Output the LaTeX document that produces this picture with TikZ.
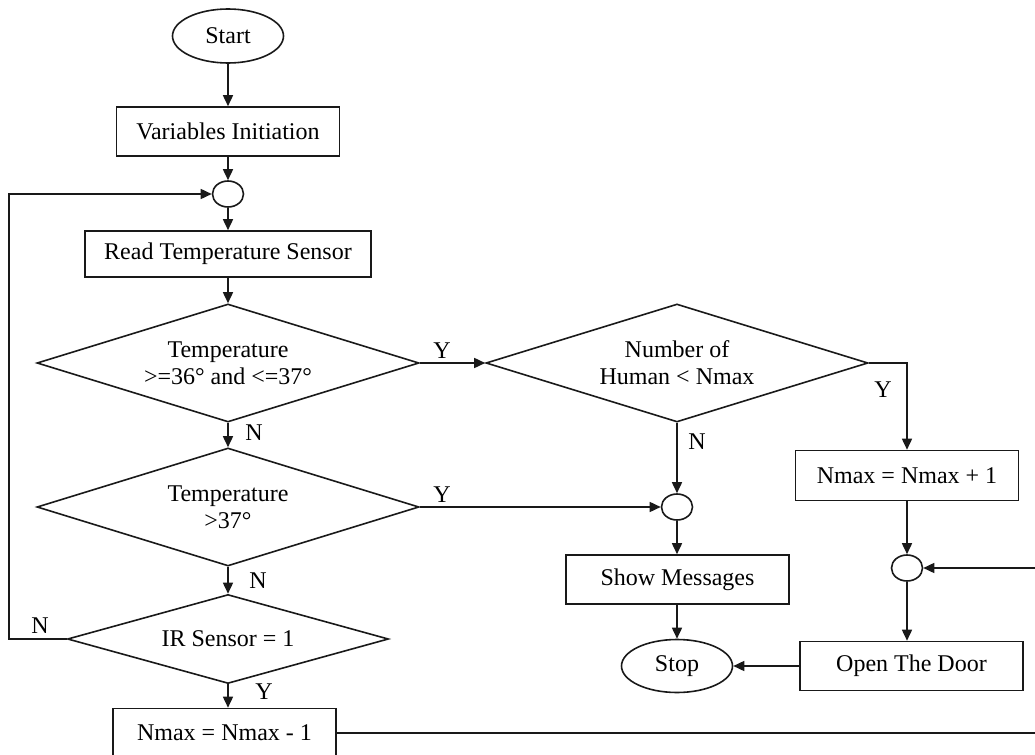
\documentclass[tikz,border=0pt]{standalone}
\usepackage{fontspec}
\setmainfont{Liberation Serif}
\usetikzlibrary{shapes.geometric,arrows.meta}
\tikzset{
  base/.style={draw=black!90, line width=0.8pt, inner sep=0pt, font=\fontsize{12}{13.5}\selectfont, align=center},
  procbox/.style={base, rectangle, minimum width=111.5pt, minimum height=24.5pt},
  term/.style={base, ellipse, minimum width=55.5pt, minimum height=27pt},
  junc/.style={base, ellipse, minimum width=15.5pt, minimum height=13pt},
  decide/.style={base, diamond, aspect=3.2, minimum width=191pt, minimum height=59pt},
  lbl/.style={font=\fontsize{12}{13.5}\selectfont, inner sep=0pt},
  flow/.style={draw=black!90, line width=0.8pt, -{Triangle[length=5.5pt,width=5pt]}},
  wire/.style={draw=black!90, line width=0.8pt}
}
\begin{document}
\begin{tikzpicture}[x=0.5pt,y=-0.5pt]
\useasboundingbox (0,0) rectangle (1035,755);
% nodes
\node[term] (start) at (228,36) {Start};
\node[procbox] (init) at (228,131.5) {Variables Initiation};
\node[junc] (c1) at (228,194) {};
\node[procbox, minimum width=143pt, minimum height=23pt] (read) at (228,254) {Read Temperature Sensor};
\node[decide] (d1) at (228,363) {Temperature\\>=36° and <=37°};
\node[decide] (d2) at (677,363) {Number of\\Human < Nmax};
\node[decide] (d3) at (228,507) {Temperature\\>37°};
\node[decide, minimum width=160.5pt, minimum height=44.5pt] (d4) at (228,639) {IR Sensor = 1};
\node[procbox] (dec) at (224.5,733) {Nmax = Nmax - 1};
\node[junc] (c2) at (677,507) {};
\node[procbox] (show) at (677.5,579.5) {Show Messages};
\node[term, minimum height=26.5pt] (stop) at (677,666) {Stop};
\node[procbox, minimum height=25pt] (inc) at (907,475.5) {Nmax = Nmax + 1};
\node[junc] (c3) at (907,568) {};
\node[procbox] (door) at (911.5,666) {Open The Door};
\coordinate (lp) at (9,639);
\coordinate (rp) at (1042,733);
% connectors
\draw[flow] (start.south) -- (init.north);
\draw[flow] (init.south) -- (c1.north);
\draw[flow] (c1.south) -- (read.north);
\draw[flow] (read.south) -- (d1.north);
\draw[flow] (d1.east) -- (d2.west);
\draw[flow] (d1.south) -- (d3.north);
\draw[flow] (d3.east) -- (c2.west);
\draw[flow] (d2.south) -- (c2.north);
\draw[flow] (c2.south) -- (c2.south |- show.north);
\draw[flow] (show.south -| stop.north) -- (stop.north);
\draw[flow] (d2.east) -| (inc.north);
\draw[flow] (inc.south) -- (c3.north);
\draw[flow] (c3.south) -- (c3.south |- door.north);
\draw[flow] (door.west) -- (stop.east);
\draw[flow] (d3.south) -- (d4.north);
\draw[flow] (d4.south) -- (d4.south |- dec.north);
\draw[flow] (d4.west) -- (lp) |- (c1.west);
\draw[flow] (dec.east) -- (rp) |- (c3.east);
% labels
\node[lbl] (ly1) at (442,351) {Y};
\node[lbl] (ln1) at (254,433) {N};
\node[lbl] (ly2) at (442,495) {Y};
\node[lbl] (ln2) at (697,442) {N};
\node[lbl] (ly3) at (883,390) {Y};
\node[lbl] (ln3) at (258,581) {N};
\node[lbl] (ly4) at (264,692) {Y};
\node[lbl] (ln4) at (40,626) {N};
\end{tikzpicture}
\end{document}
